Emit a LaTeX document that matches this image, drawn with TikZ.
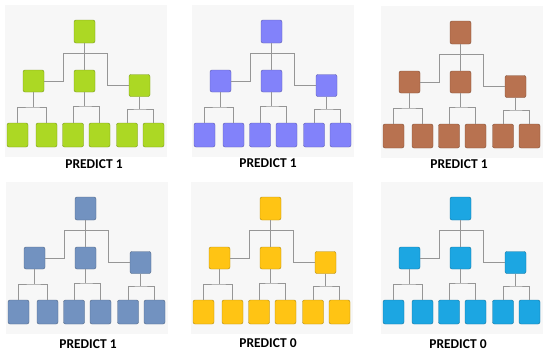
\documentclass[tikz,border=0pt]{standalone}
\usepackage{fontspec}
\setmainfont{Carlito}
\definecolor{cgreen}{RGB}{172,216,36}
\definecolor{cpurple}{RGB}{130,130,250}
\definecolor{cbrown}{RGB}{184,114,80}
\definecolor{cslate}{RGB}{114,146,192}
\definecolor{cyellow}{RGB}{255,196,20}
\definecolor{ccyan}{RGB}{28,166,226}
\definecolor{panelbg}{RGB}{247,247,247}
\definecolor{wirecol}{RGB}{150,150,150}
\tikzset{
  box/.style={draw=#1!70!black, fill=#1, rounded corners=2pt, inner sep=0pt,
    minimum width=21pt, minimum height=22pt, line width=0.4pt},
  leafbox/.style={box=#1, minimum height=24pt},
  wire/.style={draw=wirecol, line width=0.8pt},
  lbl/.style={font=\bfseries\fontsize{13.5}{15}\selectfont, inner sep=0pt, text=black}
}
\begin{document}
\begin{tikzpicture}[x=1pt,y=-1pt]
\useasboundingbox[fill=white] (0,0) rectangle (550,354);
\foreach \dx/\dy/\col/\lab/\tx/\ty/\k in {
  0/0/cgreen/PREDICT 1/94/164/1,
  187/0/cpurple/PREDICT 1/268/163/2,
  376/1/cbrown/PREDICT 1/459/164/3,
  1/177/cslate/PREDICT 1/88/344/4,
  186/177/cyellow/PREDICT 0/268/343/5,
  376/177/ccyan/PREDICT 0/458/344/6}{
  \begin{scope}[shift={(\dx,\dy)}]
    \fill[panelbg] (5,5) rectangle (167,157);
    % tree nodes
    \node[box=\col, minimum height=23pt] (r\k) at (84.5,31.5) {};
    \node[box=\col] (l\k) at (33.5,81) {};
    \node[box=\col] (m\k) at (84.5,81) {};
    \node[box=\col] (q\k) at (139.5,85.5) {};
    \node[leafbox=\col] (a\k) at (17.5,135) {};
    \node[leafbox=\col] (b\k) at (46.5,135) {};
    \node[leafbox=\col] (c\k) at (73,135) {};
    \node[leafbox=\col] (d\k) at (99.5,135) {};
    \node[leafbox=\col] (e\k) at (127,135) {};
    \node[leafbox=\col] (f\k) at (153.5,135) {};
    % bus coordinates
    \coordinate (bl\k) at (63,53);
    \coordinate (br\k) at (107,53);
    \coordinate (lb\k) at (33.5,107);
    \coordinate (mb\k) at (84.5,106);
    \coordinate (qb\k) at (139.5,109);
  \end{scope}
  % connectors
  \draw[wire] (r\k) -- (m\k);
  \draw[wire] (bl\k) -- (br\k);
  \draw[wire] (bl\k) |- (l\k);
  \draw[wire] (br\k) |- (q\k);
  \draw[wire] (l\k) -- (lb\k);
  \draw[wire] (a\k) |- (lb\k) -| (b\k);
  \draw[wire] (m\k) -- (mb\k);
  \draw[wire] (c\k) |- (mb\k) -| (d\k);
  \draw[wire] (q\k) -- (qb\k);
  \draw[wire] (e\k) |- (qb\k) -| (f\k);
  \node[lbl] (t\k) at (\tx,\ty) {\lab};
}
\end{tikzpicture}
\end{document}
